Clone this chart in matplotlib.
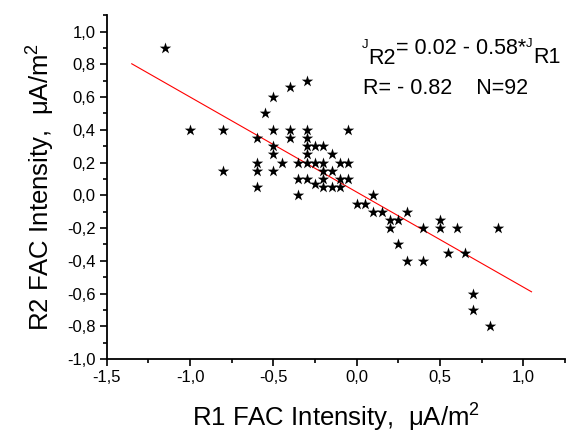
import matplotlib
matplotlib.use("Agg")
import matplotlib.pyplot as plt
from matplotlib.ticker import MultipleLocator, FuncFormatter
import numpy as np

plt.rcParams['font.family'] = ['Liberation Sans', 'DejaVu Sans']
plt.rcParams['mathtext.fontset'] = 'custom'
plt.rcParams['mathtext.rm'] = 'Liberation Sans'
plt.rcParams['mathtext.it'] = 'Liberation Sans'

# data (R1, R2 FAC intensity, uA/m^2)
r1 = [-1.15, -1.0, -0.8, -0.8,
      -0.6, -0.6, -0.6, -0.6, -0.55,
      -0.5, -0.5, -0.5, -0.5, -0.5, -0.45,
      -0.4, -0.4, -0.4, -0.35, -0.35, -0.35,
      -0.3, -0.3, -0.3, -0.3, -0.3, -0.3, -0.3,
      -0.25, -0.25, -0.25,
      -0.2, -0.2, -0.2, -0.2, -0.2,
      -0.15, -0.15, -0.15, -0.1, -0.1, -0.1,
      -0.05, -0.05, -0.05,
      0.0, 0.05, 0.1, 0.1, 0.15, 0.2, 0.2, 0.25, 0.25,
      0.3, 0.3, 0.4, 0.4, 0.5, 0.5, 0.55, 0.6, 0.65,
      0.7, 0.7, 0.8, 0.85]
r2 = [0.9, 0.4, 0.4, 0.15,
      0.35, 0.2, 0.15, 0.05, 0.5,
      0.6, 0.4, 0.3, 0.25, 0.15, 0.2,
      0.66, 0.4, 0.35, 0.2, 0.1, 0.0,
      0.7, 0.4, 0.35, 0.3, 0.25, 0.2, 0.1,
      0.3, 0.2, 0.07,
      0.3, 0.2, 0.15, 0.1, 0.05,
      0.25, 0.15, 0.05, 0.2, 0.1, 0.05,
      0.4, 0.2, 0.1,
      -0.05, -0.05, 0.0, -0.1, -0.1, -0.15, -0.2, -0.15, -0.3,
      -0.1, -0.4, -0.2, -0.4, -0.15, -0.2, -0.35, -0.2, -0.35,
      -0.6, -0.7, -0.8, -0.2]

fit_intercept = 0.02
fit_slope = -0.58
fit_x = [-1.35, 1.05]

fig = plt.figure(figsize=(5.74, 4.45), dpi=100)
ax = fig.add_axes([0.186, 0.193, 0.798, 0.773])

ax.scatter(r1, r2, marker='*', s=75, color='black', linewidths=0, zorder=3)
fx = np.array(fit_x)
ax.plot(fx, fit_intercept + fit_slope * fx, color='red', lw=0.8, zorder=2)

ax.set_xlim(-1.5, 1.25)
ax.set_ylim(-1.0, 1.1)
for s in ['top', 'right']:
    ax.spines[s].set_visible(False)
for s in ['left', 'bottom']:
    ax.spines[s].set_linewidth(1.3)

ax.xaxis.set_major_locator(MultipleLocator(0.5))
ax.xaxis.set_minor_locator(MultipleLocator(0.25))
ax.yaxis.set_major_locator(MultipleLocator(0.2))
ax.yaxis.set_minor_locator(MultipleLocator(0.1))
fmt = FuncFormatter(lambda v, p: ('%.1f' % v).replace('.', ',').replace('-0,0', '0,0'))
ax.xaxis.set_major_formatter(fmt)
ax.yaxis.set_major_formatter(fmt)
ax.tick_params(which='major', direction='out', length=5, width=1.2, labelsize=12, pad=3)
ax.tick_params(which='minor', direction='out', length=3, width=1.2)

ax.set_xlabel(r'R1 FAC Intensity,  $\mu$A/m$^{\mathregular{2}}$', fontsize=18.5, labelpad=12)
ax.set_ylabel(r'R2 FAC Intensity,  $\mu$A/m$^{\mathregular{2}}$', fontsize=18.5, labelpad=7)

# annotation: J_R2 = 0.02 - 0.58*J_R1
t0 = ax.text(362 / 574, 1 - 39 / 445, 'J', transform=fig.transFigure,
             fontsize=9.5, va='top', ha='left')
t1 = ax.annotate('R2', xy=(1, 0), xycoords=t0, xytext=(0, -13), textcoords='offset points',
                 fontsize=15.5, va='bottom', ha='left')
t2 = ax.annotate('= 0.02 - 0.58*', xy=(1, 0), xycoords=t1, xytext=(0, 7), textcoords='offset points',
                 fontsize=15.5, va='bottom', ha='left')
t3 = ax.annotate('J', xy=(1, 1), xycoords=t2, xytext=(0, 0), textcoords='offset points',
                 fontsize=9.5, va='top', ha='left')
t4 = ax.annotate('R1', xy=(1, 0), xycoords=t3, xytext=(0, -13), textcoords='offset points',
                 fontsize=15.5, va='bottom', ha='left')
ax.text(363 / 574, 1 - 94 / 445, 'R= - 0.82    N=92', transform=fig.transFigure,
        fontsize=15.5, va='baseline', ha='left')

fig.savefig('out.png', dpi=100)
